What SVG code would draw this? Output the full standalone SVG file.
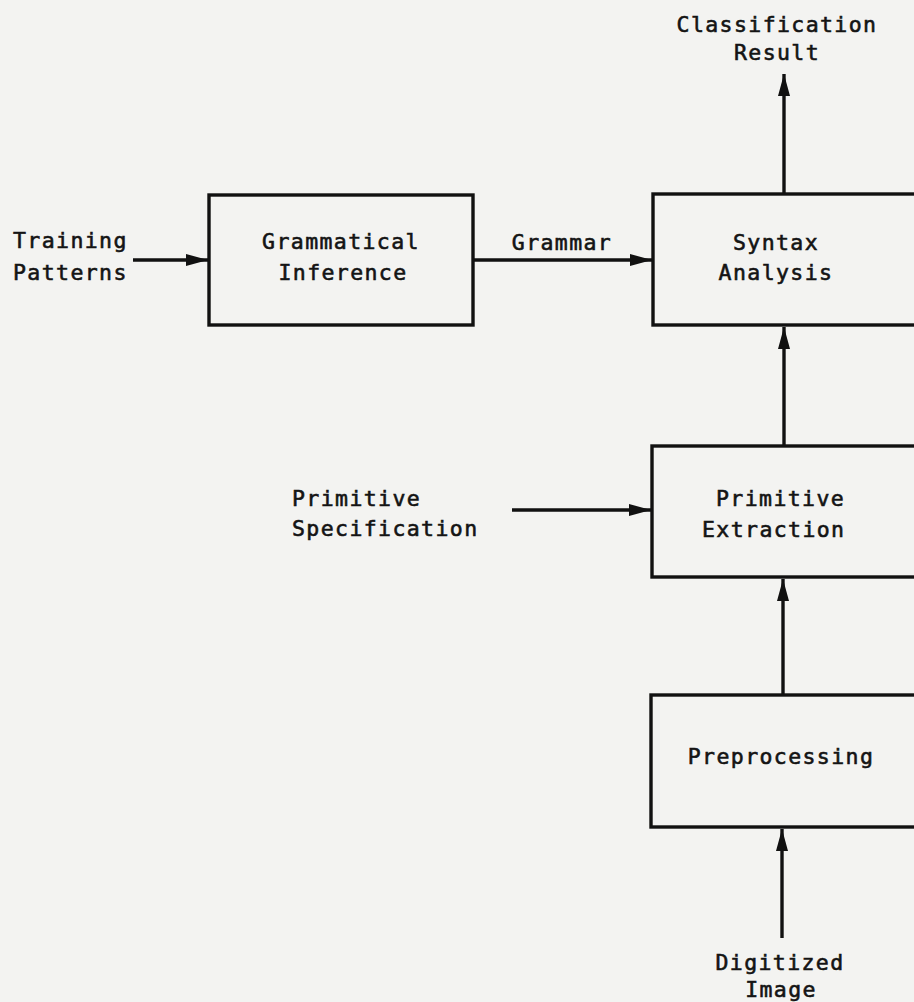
<svg xmlns="http://www.w3.org/2000/svg" width="914" height="1002" viewBox="0 0 914 1002">
  <style>
    .box { fill: none; stroke: #111; stroke-width: 3.4; }
    .wire { fill: none; stroke: #111; stroke-width: 3.4; }
    .lbl { font-family: "DejaVu Sans Mono", "Liberation Mono", monospace; font-size: 21.5px; fill: #141414; stroke: #141414; stroke-width: 0.6px; letter-spacing: 1.4px; }
    .mid { text-anchor: middle; }
  </style>
  <defs>
    <marker id="head" viewBox="0 0 22 14" refX="22" refY="7" markerWidth="22" markerHeight="14" markerUnits="userSpaceOnUse" orient="auto">
      <path d="M0,1 L22,7 L0,13 Z" fill="#111"/>
    </marker>
  </defs>
  <rect width="914" height="1002" fill="#f3f3f1"/>

  <g id="connectors">
    <line class="wire" x1="133" y1="260" x2="208" y2="260" marker-end="url(#head)"/>
    <line class="wire" x1="473" y1="260" x2="652" y2="260" marker-end="url(#head)"/>
    <line class="wire" x1="784" y1="194" x2="784" y2="74" marker-end="url(#head)"/>
    <line class="wire" x1="784" y1="446" x2="784" y2="327" marker-end="url(#head)"/>
    <line class="wire" x1="512" y1="510" x2="651" y2="510" marker-end="url(#head)"/>
    <line class="wire" x1="783" y1="695" x2="783" y2="579" marker-end="url(#head)"/>
    <line class="wire" x1="782" y1="938" x2="782" y2="829" marker-end="url(#head)"/>
  </g>

  <g id="training-patterns">
    <text class="lbl" x="13" y="248">Training</text>
    <text class="lbl" x="13" y="280">Patterns</text>
  </g>

  <g id="grammatical-inference">
    <rect class="box" x="209" y="195" width="264" height="130"/>
    <text class="lbl mid" x="341" y="249">Grammatical</text>
    <text class="lbl mid" x="343" y="280">Inference</text>
  </g>

  <g id="grammar">
    <text class="lbl mid" x="562" y="250">Grammar</text>
  </g>

  <g id="syntax-analysis">
    <rect class="box" x="653" y="194" width="270" height="131"/>
    <text class="lbl mid" x="776" y="250">Syntax</text>
    <text class="lbl mid" x="776" y="280">Analysis</text>
  </g>

  <g id="classification-result">
    <text class="lbl mid" x="777" y="32">Classification</text>
    <text class="lbl mid" x="777" y="60">Result</text>
  </g>

  <g id="primitive-specification">
    <text class="lbl" x="292" y="506">Primitive</text>
    <text class="lbl" x="292" y="536">Specification</text>
  </g>

  <g id="primitive-extraction">
    <rect class="box" x="652" y="446" width="270" height="131"/>
    <text class="lbl" x="716" y="506">Primitive</text>
    <text class="lbl" x="702" y="537">Extraction</text>
  </g>

  <g id="preprocessing">
    <rect class="box" x="651" y="695" width="270" height="132"/>
    <text class="lbl mid" x="781" y="764">Preprocessing</text>
  </g>

  <g id="digitized-image">
    <text class="lbl mid" x="780" y="970">Digitized</text>
    <text class="lbl mid" x="781" y="997">Image</text>
  </g>
</svg>
